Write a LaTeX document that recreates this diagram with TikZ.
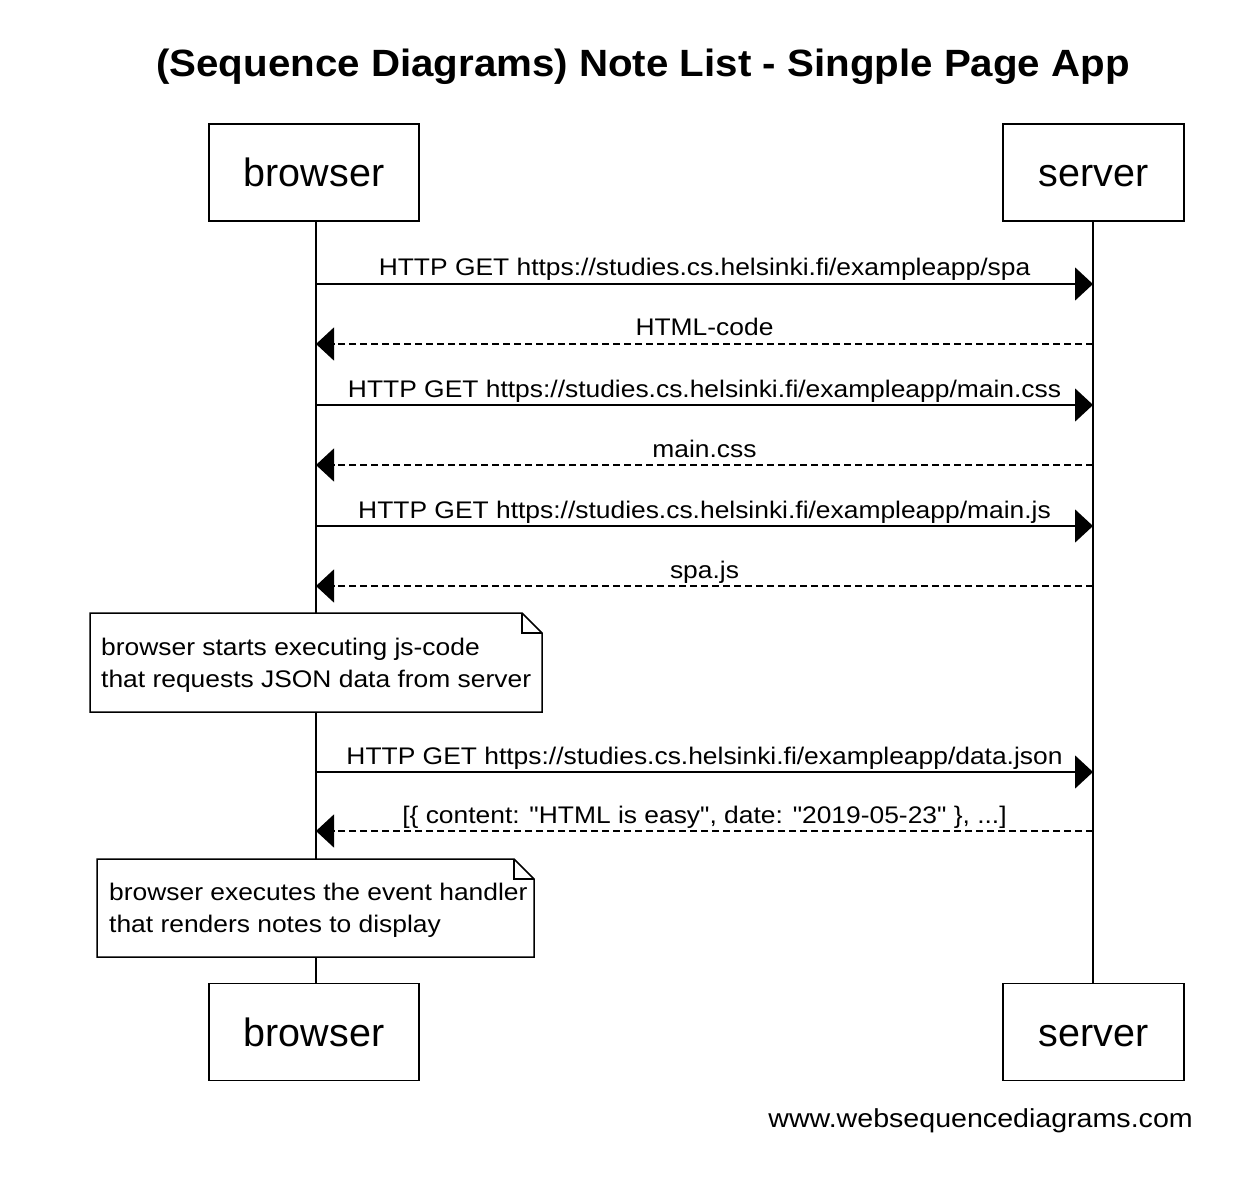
\documentclass[tikz,border=0pt]{standalone}
\usepackage{fontspec}
\setmainfont{Liberation Sans}
\newfontfamily\lblfont[FakeStretch=1.1]{Liberation Sans}
\newfontfamily\titlefont[FakeStretch=1.06]{Liberation Sans Bold}
\newcommand{\dq}{\char34\relax}
\usetikzlibrary{arrows.meta}
\begin{document}
\begin{tikzpicture}[x=1pt,y=-1pt,
  actor/.style={draw, line width=1.5pt, fill=white, minimum width=210pt, minimum height=97pt, inner sep=0pt, text height=28pt, text depth=0pt, font=\fontsize{39.5}{44}\selectfont},
  lifeline/.style={line width=1.5pt},
  req/.style={line width=1.5pt, -{Triangle[length=18pt,width=33pt]}},
  resp/.style={line width=1.5pt, dash pattern=on 7pt off 4pt, -{Triangle[length=18pt,width=33pt]}},
  lbl/.style={font=\lblfont\fontsize{24}{28}\selectfont, inner sep=0pt, anchor=base},
  notebox/.style={draw, line width=1.5pt, fill=white},
  notetext/.style={font=\lblfont\fontsize{24}{28}\selectfont, inner sep=0pt, anchor=base west},
]
\useasboundingbox (0,0) rectangle (1240,1198);
\node[font=\titlefont\fontsize{38}{42}\selectfont, anchor=base] (title) at (643,77) {(Sequence Diagrams) Note List - Singple Page App};

\node[actor] (bt) at (314,172.5) {browser};
\node[actor, minimum width=181pt] (st) at (1093.5,172.5) {server};
\node[actor] (bb) at (314,1032) {browser};
\node[actor, minimum width=181pt] (sb) at (1093.5,1032) {server};

\coordinate (bl) at (316,0);
\coordinate (sl) at (1093,0);
\draw[lifeline] (bl |- bt.south) -- (bl |- bb.north);
\draw[lifeline] (sl |- st.south) -- (sl |- sb.north);

% messages
\coordinate (m1b) at (316,284); \coordinate (m1s) at (1093,284);
\coordinate (m2b) at (316,344); \coordinate (m2s) at (1093,344);
\coordinate (m3b) at (316,405); \coordinate (m3s) at (1093,405);
\coordinate (m4b) at (316,465); \coordinate (m4s) at (1093,465);
\coordinate (m5b) at (316,526); \coordinate (m5s) at (1093,526);
\coordinate (m6b) at (316,586); \coordinate (m6s) at (1093,586);
\coordinate (m7b) at (316,772); \coordinate (m7s) at (1093,772);
\coordinate (m8b) at (316,831); \coordinate (m8s) at (1093,831);

\draw[req] (m1b) -- (m1s) node[lbl, pos=0.5, yshift=8pt] (l1) {HTTP GET https://studies.cs.helsinki.fi/exampleapp/spa};
\draw[resp] (m2s) -- (m2b) node[lbl, pos=0.5, yshift=8pt] (l2) {HTML-code};
\draw[req] (m3b) -- (m3s) node[lbl, pos=0.5, yshift=8pt] (l3) {HTTP GET https://studies.cs.helsinki.fi/exampleapp/main.css};
\draw[resp] (m4s) -- (m4b) node[lbl, pos=0.5, yshift=8pt] (l4) {main.css};
\draw[req] (m5b) -- (m5s) node[lbl, pos=0.5, yshift=8pt] (l5) {HTTP GET https://studies.cs.helsinki.fi/exampleapp/main.js};
\draw[resp] (m6s) -- (m6b) node[lbl, pos=0.5, yshift=8pt] (l6) {spa.js};
\draw[req] (m7b) -- (m7s) node[lbl, pos=0.5, yshift=8pt] (l7) {HTTP GET https://studies.cs.helsinki.fi/exampleapp/data.json};
\draw[resp] (m8s) -- (m8b) node[lbl, pos=0.5, yshift=8pt] (l8) {[\{ content: \dq HTML is easy\dq, date: \dq 2019-05-23\dq\ \}, ...]};

% note 1
\draw[notebox] (90,613) -- (522,613) -- (542,633) -- (542,712) -- (90,712) -- cycle;
\draw[line width=1.5pt] (522,613) -- (522,633) -- (542,633);
\node[notetext] (n1a) at (101,655) {browser starts executing js-code};
\node[notetext] (n1b) at (101,687) {that requests JSON data from server};

% note 2
\draw[notebox] (97,859) -- (514,859) -- (534,879) -- (534,957) -- (97,957) -- cycle;
\draw[line width=1.5pt] (514,859) -- (514,879) -- (534,879);
\node[notetext] (n2a) at (109,900) {browser executes the event handler};
\node[notetext] (n2b) at (109,932) {that renders notes to display};

\node[font=\lblfont\fontsize{26}{30}\selectfont, inner sep=0pt, anchor=base east] (foot) at (1193,1127) {www.websequencediagrams.com};
\end{tikzpicture}
\end{document}
